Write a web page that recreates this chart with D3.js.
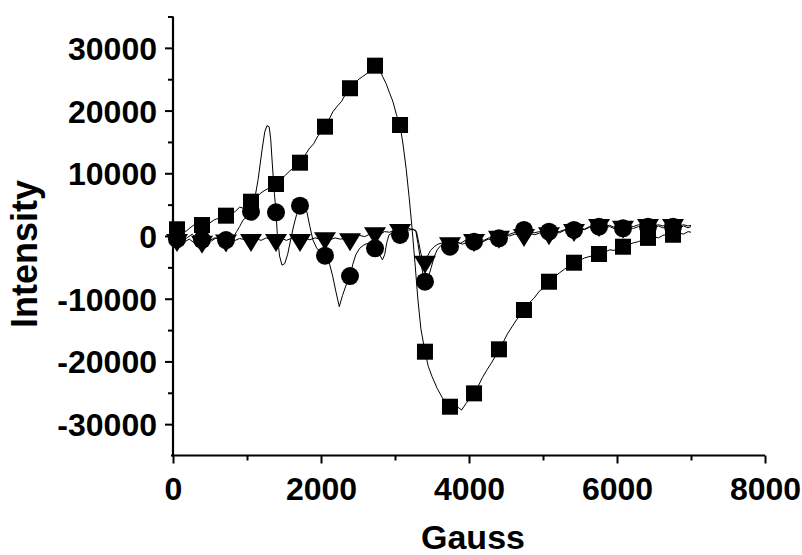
<!DOCTYPE html>
<html>
<head>
<meta charset="utf-8">
<script src="https://cdn.jsdelivr.net/npm/d3@7"></script>
<style>
  html, body { margin: 0; padding: 0; background: #fff; }
  svg { display: block; }
  text { font-family: "Liberation Sans", Arial, sans-serif; font-weight: bold; fill: #000; }
</style>
</head>
<body>
<svg id="chart" width="802" height="555"></svg>
<script>
// Field positions (Gauss) where the symbols sit on each trace
const markerGauss = [54, 392, 716, 1054, 1392, 1716, 2054, 2392, 2730, 3068, 3405,
  3743, 4068, 4405, 4743, 5081, 5419, 5757, 6081, 6419, 6757];

// Symbol values for the three spectra
const squareValues = [1070, 1750, 3240, 5470, 8290, 11690, 17430, 23560, 27160, 17700, -18450,
  -27220, -25090, -18070, -11800, -7290, -4260, -2870, -1710, -300, 200];
const circleValues = [-500, -600, -640, 3880, 3780, 4840, -3140, -6380, -1960, 160, -7290,
  -1700, -900, -370, 960, 690, 960, 1480, 1230, 1480, 1480];
const triangleValues = [-640, -900, -700, -640, -640, -640, -370, -500, 430, 960, -4100,
  -1170, -640, -110, 160, 430, 960, 1750, 1480, 1750, 1750];

// Recorded traces: [Gauss, intensity]
const squareTrace = [[0,800],[54,1070],[120,1500],[170,700],[230,1300],[300,1900],[392,1750],[450,1300],[500,2100],[560,2600],[640,2900],[716,3240],[780,3500],[840,3900],[900,4600],[960,4400],[1054,5470],[1120,5900],[1170,6700],[1230,7200],[1290,7600],[1340,7900],[1392,8290],[1450,8900],[1520,9700],[1580,10400],[1650,11000],[1716,11690],[1780,12800],[1840,13900],[1900,14700],[1960,16000],[2000,16400],[2054,17430],[2110,18600],[2160,19800],[2220,20700],[2280,21500],[2330,22600],[2392,23560],[2450,24200],[2500,24900],[2560,25400],[2620,25900],[2660,26600],[2730,27160],[2790,26600],[2830,25500],[2880,24300],[2930,22700],[2970,21500],[3023,19200],[3068,17700],[3110,14500],[3150,10800],[3190,6300],[3230,1300],[3270,-4300],[3310,-10200],[3350,-14800],[3405,-18450],[3450,-20800],[3500,-22400],[3570,-24300],[3640,-25800],[3700,-26700],[3743,-27220],[3800,-27700],[3850,-27300],[3900,-27750],[3960,-26700],[4010,-26000],[4068,-25090],[4130,-23800],[4180,-22600],[4240,-21400],[4300,-20300],[4350,-19300],[4405,-18070],[4460,-17000],[4520,-15600],[4580,-14500],[4640,-13400],[4690,-12700],[4743,-11800],[4820,-10600],[4880,-9900],[4950,-8800],[5010,-8300],[5081,-7290],[5150,-6600],[5220,-5900],[5290,-5300],[5350,-4800],[5419,-4260],[5500,-3900],[5560,-3500],[5620,-3300],[5690,-3100],[5757,-2870],[5830,-2600],[5900,-2200],[5960,-2300],[6020,-1900],[6081,-1710],[6150,-1400],[6220,-1100],[6290,-900],[6350,-600],[6419,-300],[6490,-100],[6560,-300],[6620,100],[6690,300],[6757,200],[6830,500],[6900,300],[6960,700],[7000,600]];

const circleTrace = [[0,-300],[40,-800],[54,-500],[100,-100],[150,-600],[200,-200],[260,300],[320,-400],[392,-600],[440,-200],[500,-700],[560,-300],[620,-500],[680,-800],[716,-640],[770,-400],[820,-100],[860,700],[900,1500],[950,2600],[1000,3000],[1054,3880],[1100,5600],[1150,9000],[1203,13700],[1240,16600],[1270,17600],[1300,17400],[1320,15500],[1345,11000],[1370,6800],[1392,3780],[1410,200],[1440,-3200],[1473,-4650],[1510,-4400],[1550,-2900],[1590,-600],[1630,1600],[1670,3400],[1716,4840],[1770,5000],[1810,3800],[1850,1500],[1890,-600],[1940,-1900],[2000,-2700],[2054,-3140],[2110,-4200],[2160,-6500],[2200,-8800],[2247,-11270],[2290,-9500],[2340,-7800],[2392,-6380],[2430,-4500],[2470,-3000],[2520,-2000],[2570,-1500],[2620,-1200],[2680,-1400],[2730,-1960],[2780,-2700],[2830,-3800],[2860,-3000],[2890,-1000],[2920,200],[2970,500],[3020,300],[3068,160],[3120,600],[3180,900],[3240,1100],[3280,900],[3310,-1200],[3340,-3500],[3370,-5600],[3405,-7290],[3450,-6600],[3490,-5000],[3530,-3300],[3570,-2200],[3620,-1500],[3680,-1400],[3743,-1700],[3800,-1500],[3850,-1000],[3910,-1300],[3980,-1000],[4068,-900],[4130,-600],[4190,-900],[4260,-500],[4330,-700],[4405,-370],[4470,-200],[4530,200],[4600,500],[4670,800],[4743,960],[4810,800],[4880,500],[4950,700],[5010,900],[5081,690],[5150,900],[5220,700],[5290,1000],[5350,800],[5419,960],[5490,1200],[5560,1000],[5630,1400],[5700,1300],[5757,1480],[5830,1300],[5900,1500],[5960,1200],[6020,1400],[6081,1230],[6150,1400],[6220,1200],[6290,1500],[6350,1300],[6419,1480],[6490,1300],[6560,1600],[6620,1300],[6690,1500],[6757,1480],[6830,1200],[6900,1600],[6960,1300],[7000,1500]];

const triangleTrace = [[0,-900],[54,-640],[110,-300],[160,-900],[220,-500],[290,-1100],[340,-600],[392,-900],[450,-400],[520,-800],[580,-300],[650,-600],[716,-700],[780,-300],[840,-700],[900,-400],[980,-600],[1054,-640],[1120,-400],[1190,-700],[1260,-300],[1330,-600],[1392,-640],[1460,-300],[1530,-700],[1600,-400],[1660,-600],[1716,-640],[1780,-400],[1850,-600],[1920,-300],[1990,-500],[2054,-370],[2120,-600],[2190,-300],[2260,-500],[2330,-400],[2392,-500],[2450,-200],[2520,100],[2590,-100],[2660,300],[2730,430],[2800,300],[2860,700],[2930,600],[3000,1000],[3068,960],[3130,900],[3190,1200],[3250,1000],[3290,700],[3320,-1000],[3350,-2800],[3380,-4000],[3405,-4100],[3440,-3200],[3480,-2300],[3530,-1700],[3580,-1300],[3640,-1100],[3700,-1400],[3743,-1170],[3820,-900],[3880,-1200],[3950,-700],[4010,-900],[4068,-640],[4140,-400],[4200,-700],[4270,-300],[4340,-200],[4405,-110],[4480,200],[4550,0],[4620,300],[4690,100],[4743,160],[4820,400],[4890,200],[4960,500],[5020,300],[5081,430],[5150,700],[5220,500],[5290,900],[5350,800],[5419,960],[5490,1300],[5560,1100],[5630,1500],[5700,1400],[5757,1750],[5830,1500],[5900,1700],[5960,1400],[6020,1600],[6081,1480],[6150,1700],[6220,1500],[6290,1800],[6350,1600],[6419,1750],[6490,1500],[6560,1800],[6620,1600],[6690,1900],[6757,1750],[6830,1500],[6900,1800],[6960,1600],[7000,1700]];

// Axis ticks
const xMajorTicks = [0, 2000, 4000, 6000, 8000];
const xMinorTicks = [1000, 3000, 5000, 7000];
const yMajorTicks = [-30000, -20000, -10000, 0, 10000, 20000, 30000];
const yMinorTicks = [-25000, -15000, -5000, 5000, 15000, 25000, 35000];

const xTitle = "Gauss";
const yTitle = "Intensity";

const svg = d3.select("#chart");
const plot = { left: 173, right: 765, top: 16.5, bottom: 455.5 };

const x = d3.scaleLinear().domain([0, 8000]).range([plot.left, plot.right]);
const y = d3.scaleLinear().domain([-35000, 35000]).range([plot.bottom, plot.top]);

// Plain integer labels with an ASCII hyphen for negatives
const plainFormat = d => String(d);

// Traces
const line = d3.line().x(d => x(d[0])).y(d => y(d[1]));
const traces = [squareTrace, circleTrace, triangleTrace];
svg.append("g").selectAll("path").data(traces).join("path")
  .attr("d", line)
  .attr("fill", "none")
  .attr("stroke", "#000")
  .attr("stroke-width", 1)
  .attr("stroke-linejoin", "round");

// Symbols
const squareSide = 16;
svg.append("g").selectAll("rect").data(squareValues).join("rect")
  .attr("x", (d, i) => x(markerGauss[i]) - squareSide / 2)
  .attr("y", d => y(d) - squareSide / 2)
  .attr("width", squareSide).attr("height", squareSide)
  .attr("fill", "#000");

svg.append("g").selectAll("circle").data(circleValues).join("circle")
  .attr("cx", (d, i) => x(markerGauss[i]))
  .attr("cy", d => y(d))
  .attr("r", 9)
  .attr("fill", "#000");

// Down-pointing triangle anchored at its centroid
const triW = 22, triH = 18;
const triPath = `M${-triW / 2},${-triH / 3}L${triW / 2},${-triH / 3}L0,${2 * triH / 3}Z`;
svg.append("g").selectAll("path").data(triangleValues).join("path")
  .attr("d", triPath)
  .attr("transform", (d, i) => `translate(${x(markerGauss[i])},${y(d)})`)
  .attr("fill", "#000");

// Axes
const xAxis = svg.append("g").attr("transform", `translate(0,${plot.bottom})`)
  .call(d3.axisBottom(x).tickValues(xMajorTicks).tickSize(8).tickPadding(14).tickFormat(plainFormat));
const xMinor = svg.append("g").attr("transform", `translate(0,${plot.bottom})`)
  .call(d3.axisBottom(x).tickValues(xMinorTicks).tickSize(5).tickFormat(""));
const yAxis = svg.append("g").attr("transform", `translate(${plot.left},0)`)
  .call(d3.axisLeft(y).tickValues(yMajorTicks).tickSize(8).tickPadding(8).tickFormat(plainFormat));
const yMinor = svg.append("g").attr("transform", `translate(${plot.left},0)`)
  .call(d3.axisLeft(y).tickValues(yMinorTicks).tickSize(5).tickFormat(""));

[xAxis, xMinor, yAxis, yMinor].forEach(g => {
  g.select(".domain").remove();
  g.selectAll(".tick line").attr("stroke", "#000").attr("stroke-width", 2);
});
xAxis.selectAll("text").attr("font-size", 32).attr("font-family", "Liberation Sans, Arial, sans-serif").attr("font-weight", "bold");
yAxis.selectAll("text").attr("font-size", 32).attr("font-family", "Liberation Sans, Arial, sans-serif").attr("font-weight", "bold")
  .attr("dy", "0.36em");

// Axis lines
svg.append("line").attr("x1", plot.left - 2).attr("x2", plot.right).attr("y1", plot.bottom).attr("y2", plot.bottom)
  .attr("stroke", "#000").attr("stroke-width", 2.2);
svg.append("line").attr("x1", plot.left).attr("x2", plot.left).attr("y1", plot.top).attr("y2", plot.bottom + 1)
  .attr("stroke", "#000").attr("stroke-width", 2.2);

// Titles
svg.append("text").attr("x", (plot.left + plot.right) / 2 + 4).attr("y", 549)
  .attr("text-anchor", "middle").attr("font-size", 34).text(xTitle);
svg.append("text").attr("transform", `translate(37,${(plot.top + plot.bottom) / 2 + 18}) rotate(-90)`)
  .attr("text-anchor", "middle").attr("font-size", 36).text(yTitle);
</script>
</body>
</html>
